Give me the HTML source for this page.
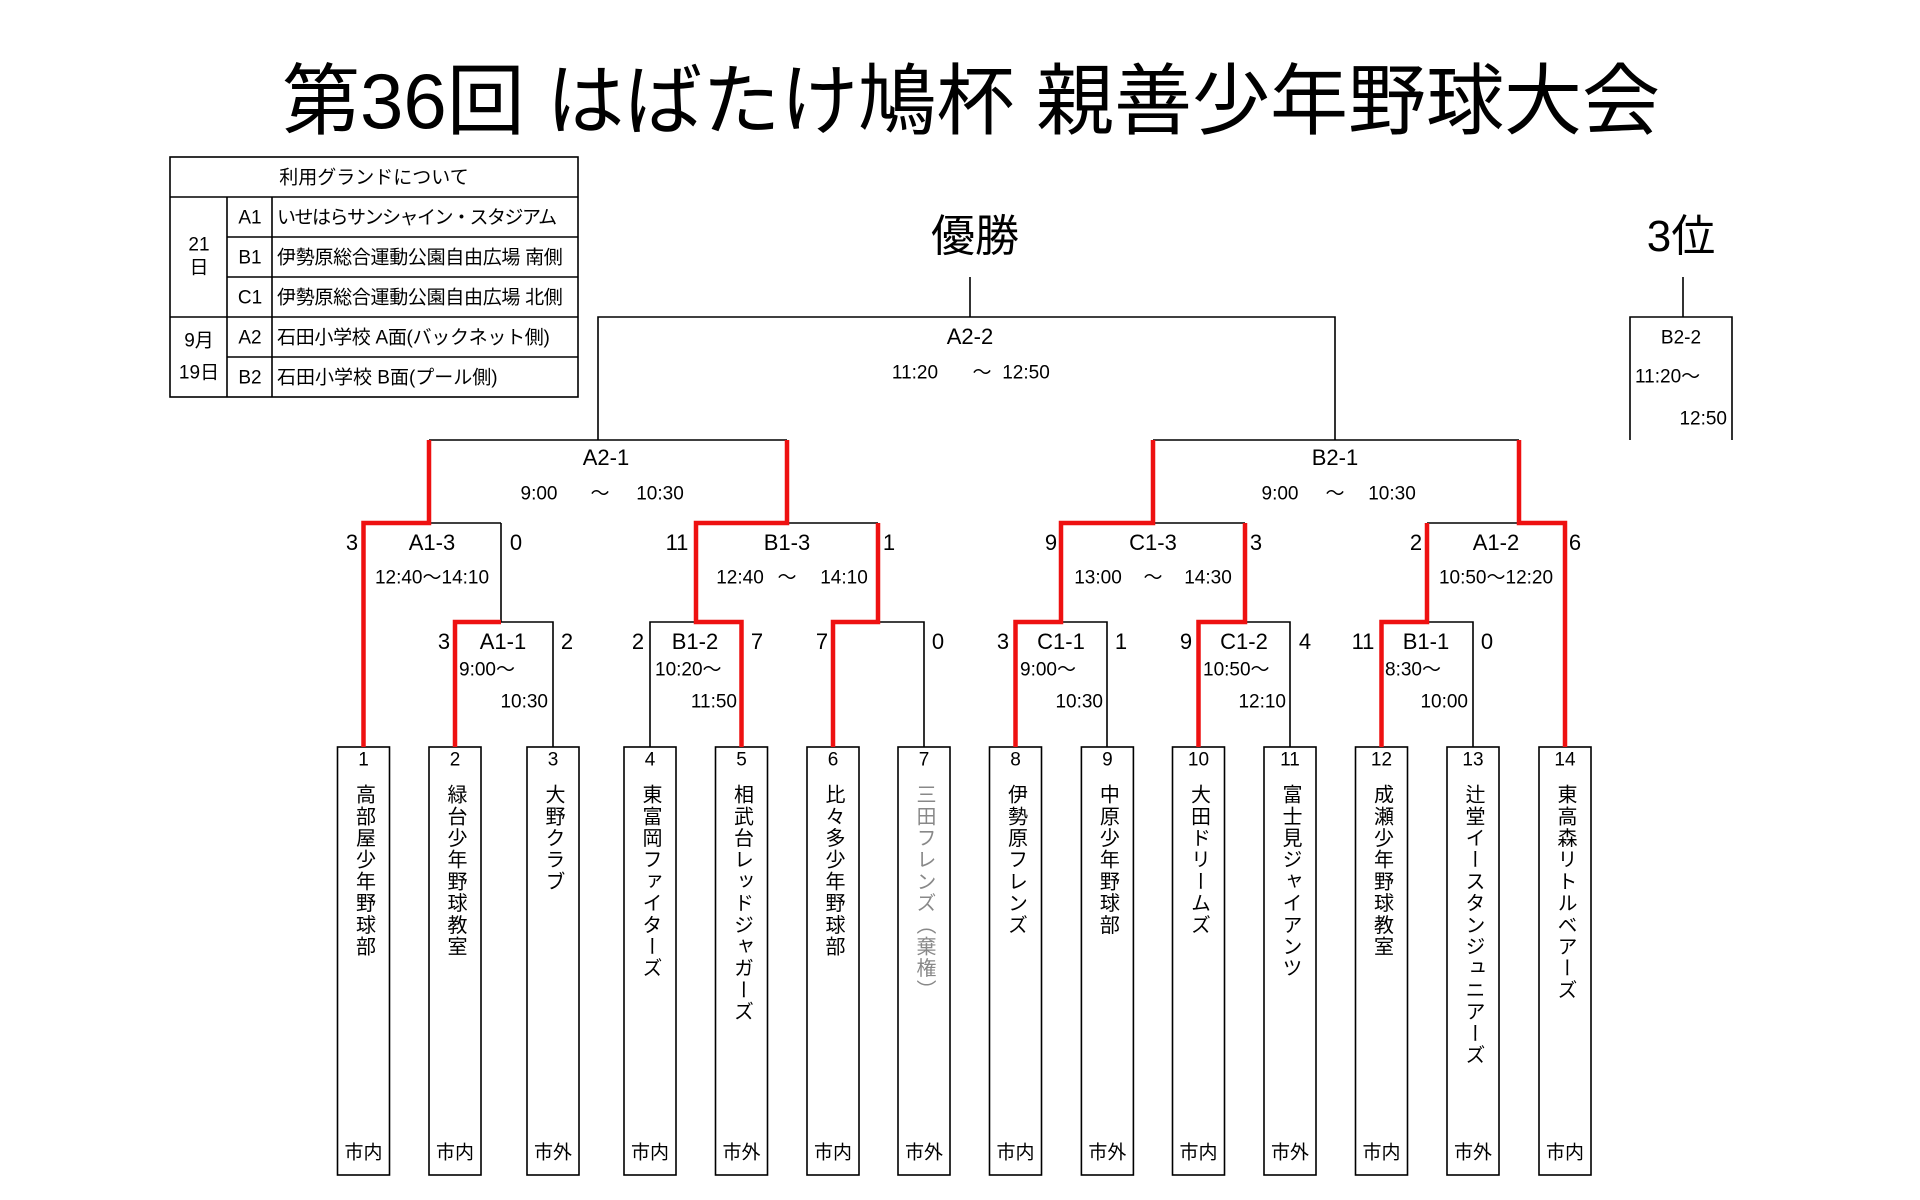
<!DOCTYPE html>
<html><head><meta charset="utf-8"><style>
html,body{margin:0;padding:0;background:#fff;}
#w{position:relative;width:1920px;height:1200px;overflow:hidden;background:#fff;font-family:"Liberation Sans","Noto Sans CJK JP",sans-serif;color:#000;}
svg{position:absolute;left:0;top:0;}
.c,.l,.r{position:absolute;white-space:nowrap;line-height:1;}
.c{transform:translate(-50%,-50%);}
.l{transform:translate(0,-50%);}
.r{transform:translate(-100%,-50%);}
.s{font-size:22px;}
.m{font-size:19px;}
.tb{font-size:19px;}
.v{position:absolute;top:784px;width:26px;writing-mode:vertical-rl;font-size:20px;letter-spacing:1.7px;line-height:26px;white-space:nowrap;}
</style></head><body><div id="w">
<svg width="1920" height="1200" viewBox="0 0 1920 1200">
<g fill="none" stroke="#000" stroke-width="1.6">
<rect x="170" y="157" width="408" height="240"/>
<line x1="170" y1="197" x2="578" y2="197"/>
<line x1="227" y1="237" x2="578" y2="237"/>
<line x1="227" y1="277" x2="578" y2="277"/>
<line x1="170" y1="317" x2="578" y2="317"/>
<line x1="227" y1="357" x2="578" y2="357"/>
<line x1="227" y1="197" x2="227" y2="397"/>
<line x1="272" y1="197" x2="272" y2="397"/>
<rect x="337.5" y="747" width="52" height="428"/>
<rect x="429" y="747" width="52" height="428"/>
<rect x="527" y="747" width="52" height="428"/>
<rect x="624" y="747" width="52" height="428"/>
<rect x="715.5" y="747" width="52" height="428"/>
<rect x="807" y="747" width="52" height="428"/>
<rect x="898" y="747" width="52" height="428"/>
<rect x="989.5" y="747" width="52" height="428"/>
<rect x="1081.4" y="747" width="52" height="428"/>
<rect x="1172.5" y="747" width="52" height="428"/>
<rect x="1264" y="747" width="52" height="428"/>
<rect x="1355.5" y="747" width="52" height="428"/>
<rect x="1447" y="747" width="52" height="428"/>
<rect x="1539" y="747" width="52" height="428"/>
<polyline points="970,277 970,317"/>
<polyline points="598,440 598,317 1335,317 1335,440"/>
<polyline points="1683,277 1683,317"/>
<polyline points="1630,440 1630,317 1732,317 1732,440"/>
<line x1="429" y1="440" x2="787" y2="440"/>
<line x1="1153" y1="440" x2="1519" y2="440"/>
<line x1="429" y1="523" x2="501" y2="523"/>
<polyline points="501,523 501,622"/>
<line x1="787" y1="523" x2="878" y2="523"/>
<line x1="1153" y1="523" x2="1245" y2="523"/>
<line x1="1427" y1="523" x2="1519" y2="523"/>
<polyline points="501,622 553,622 553,747"/>
<polyline points="650,747 650,622 696,622"/>
<polyline points="878,622 924,622 924,747"/>
<polyline points="1061,622 1107,622 1107,747"/>
<polyline points="1245,622 1290,622 1290,747"/>
<polyline points="1427,622 1473,622 1473,747"/>
</g>
<g fill="none" stroke="#ee1111" stroke-width="4.5" stroke-linejoin="miter">
<polyline points="363.5,747 363.5,523 429,523 429,440"/>
<polyline points="455,747 455,622 501,622"/>
<polyline points="787,440 787,523 696,523 696,622 741.5,622 741.5,747"/>
<polyline points="833,747 833,622 878,622 878,523"/>
<polyline points="1153,440 1153,523 1061,523 1061,622 1015.5,622 1015.5,747"/>
<polyline points="1198.5,747 1198.5,622 1245,622 1245,523"/>
<polyline points="1381.5,747 1381.5,622 1427,622 1427,523"/>
<polyline points="1519,440 1519,523 1565,523 1565,747"/>
</g>
</svg>

<div class="c" style="left:971px;top:101px;font-size:78px;">第36回 はばたけ鳩杯 親善少年野球大会</div>

<div class="c tb" style="left:374px;top:178px;">利用グランドについて</div>
<div class="c tb" style="left:199px;top:245px;">21</div>
<div class="c tb" style="left:199px;top:268px;">日</div>
<div class="c tb" style="left:199px;top:341px;">9月</div>
<div class="c tb" style="left:199px;top:373px;">19日</div>
<div class="c tb" style="left:250px;top:218px;">A1</div>
<div class="c tb" style="left:250px;top:258px;">B1</div>
<div class="c tb" style="left:250px;top:298px;">C1</div>
<div class="c tb" style="left:250px;top:338px;">A2</div>
<div class="c tb" style="left:250px;top:378px;">B2</div>
<div class="l tb" style="left:277px;top:218px;letter-spacing:-1.5px;">いせはらサンシャイン・スタジアム</div>
<div class="l tb" style="left:277px;top:258px;letter-spacing:-0.3px;">伊勢原総合運動公園自由広場 南側</div>
<div class="l tb" style="left:277px;top:298px;letter-spacing:-0.3px;">伊勢原総合運動公園自由広場 北側</div>
<div class="l tb" style="left:277px;top:338px;letter-spacing:-0.3px;">石田小学校 A面(バックネット側)</div>
<div class="l tb" style="left:277px;top:378px;">石田小学校 B面(プール側)</div>

<div class="c" style="left:975px;top:237px;font-size:44px;">優勝</div>
<div class="c" style="left:1681px;top:237px;font-size:44px;">3位</div>

<div class="c s" style="left:970px;top:337px;">A2-2</div>
<div class="c m" style="left:915px;top:373px;">11:20</div>
<div class="c m" style="left:982px;top:373px;">～</div>
<div class="c m" style="left:1026px;top:373px;">12:50</div>
<div class="c m" style="left:1681px;top:338px;">B2-2</div>
<div class="l m" style="left:1635px;top:377px;">11:20～</div>
<div class="r m" style="left:1727px;top:419px;">12:50</div>

<div class="c s" style="left:606px;top:458px;">A2-1</div>
<div class="c m" style="left:539px;top:494px;">9:00</div>
<div class="c m" style="left:600px;top:494px;">～</div>
<div class="c m" style="left:660px;top:494px;">10:30</div>
<div class="c s" style="left:1335px;top:458px;">B2-1</div>
<div class="c m" style="left:1280px;top:494px;">9:00</div>
<div class="c m" style="left:1335px;top:494px;">～</div>
<div class="c m" style="left:1392px;top:494px;">10:30</div>

<div class="c s" style="left:352px;top:543px;">3</div>
<div class="c s" style="left:432px;top:543px;">A1-3</div>
<div class="c s" style="left:516px;top:543px;">0</div>
<div class="c m" style="left:432px;top:578px;">12:40～14:10</div>
<div class="c s" style="left:677px;top:543px;">11</div>
<div class="c s" style="left:787px;top:543px;">B1-3</div>
<div class="c s" style="left:889px;top:543px;">1</div>
<div class="c m" style="left:740px;top:578px;">12:40</div>
<div class="c m" style="left:787px;top:578px;">～</div>
<div class="c m" style="left:844px;top:578px;">14:10</div>
<div class="c s" style="left:1051px;top:543px;">9</div>
<div class="c s" style="left:1153px;top:543px;">C1-3</div>
<div class="c s" style="left:1256px;top:543px;">3</div>
<div class="c m" style="left:1098px;top:578px;">13:00</div>
<div class="c m" style="left:1153px;top:578px;">～</div>
<div class="c m" style="left:1208px;top:578px;">14:30</div>
<div class="c s" style="left:1416px;top:543px;">2</div>
<div class="c s" style="left:1496px;top:543px;">A1-2</div>
<div class="c s" style="left:1575px;top:543px;">6</div>
<div class="c m" style="left:1496px;top:578px;">10:50～12:20</div>

<div class="c s" style="left:444px;top:642px;">3</div>
<div class="c s" style="left:503px;top:642px;">A1-1</div>
<div class="c s" style="left:567px;top:642px;">2</div>
<div class="l m" style="left:459px;top:670px;">9:00～</div>
<div class="r m" style="left:548px;top:702px;">10:30</div>
<div class="c s" style="left:638px;top:642px;">2</div>
<div class="c s" style="left:695px;top:642px;">B1-2</div>
<div class="c s" style="left:757px;top:642px;">7</div>
<div class="l m" style="left:655px;top:670px;">10:20～</div>
<div class="r m" style="left:737px;top:702px;">11:50</div>
<div class="c s" style="left:822px;top:642px;">7</div>
<div class="c s" style="left:938px;top:642px;">0</div>
<div class="c s" style="left:1003px;top:642px;">3</div>
<div class="c s" style="left:1061px;top:642px;">C1-1</div>
<div class="c s" style="left:1121px;top:642px;">1</div>
<div class="l m" style="left:1020px;top:670px;">9:00～</div>
<div class="r m" style="left:1103px;top:702px;">10:30</div>
<div class="c s" style="left:1186px;top:642px;">9</div>
<div class="c s" style="left:1244px;top:642px;">C1-2</div>
<div class="c s" style="left:1305px;top:642px;">4</div>
<div class="l m" style="left:1203px;top:670px;">10:50～</div>
<div class="r m" style="left:1286px;top:702px;">12:10</div>
<div class="c s" style="left:1363px;top:642px;">11</div>
<div class="c s" style="left:1426px;top:642px;">B1-1</div>
<div class="c s" style="left:1487px;top:642px;">0</div>
<div class="l m" style="left:1385px;top:670px;">8:30～</div>
<div class="r m" style="left:1468px;top:702px;">10:00</div>

<div class="c m" style="left:363.5px;top:760px;">1</div>
<div class="c m" style="left:455px;top:760px;">2</div>
<div class="c m" style="left:553px;top:760px;">3</div>
<div class="c m" style="left:650px;top:760px;">4</div>
<div class="c m" style="left:741.5px;top:760px;">5</div>
<div class="c m" style="left:833px;top:760px;">6</div>
<div class="c m" style="left:924px;top:760px;">7</div>
<div class="c m" style="left:1015.5px;top:760px;">8</div>
<div class="c m" style="left:1107.4px;top:760px;">9</div>
<div class="c m" style="left:1198.5px;top:760px;">10</div>
<div class="c m" style="left:1290px;top:760px;">11</div>
<div class="c m" style="left:1381.5px;top:760px;">12</div>
<div class="c m" style="left:1473px;top:760px;">13</div>
<div class="c m" style="left:1565px;top:760px;">14</div>

<div class="v" style="left:350.5px;">高部屋少年野球部</div>
<div class="v" style="left:442px;">緑台少年野球教室</div>
<div class="v" style="left:540px;">大野クラブ</div>
<div class="v" style="left:637px;">東富岡ファイターズ</div>
<div class="v" style="left:728.5px;">相武台レッドジャガーズ</div>
<div class="v" style="left:820px;">比々多少年野球部</div>
<div class="v" style="left:911px;color:#888;">三田フレンズ（棄権）</div>
<div class="v" style="left:1002.5px;">伊勢原フレンズ</div>
<div class="v" style="left:1094.4px;">中原少年野球部</div>
<div class="v" style="left:1185.5px;">大田ドリームズ</div>
<div class="v" style="left:1277px;">富士見ジャイアンツ</div>
<div class="v" style="left:1368.5px;">成瀬少年野球教室</div>
<div class="v" style="left:1460px;">辻堂イースタンジュニアーズ</div>
<div class="v" style="left:1552px;">東高森リトルベアーズ</div>

<div class="c m" style="left:363.5px;top:1153px;">市内</div>
<div class="c m" style="left:455px;top:1153px;">市内</div>
<div class="c m" style="left:553px;top:1153px;">市外</div>
<div class="c m" style="left:650px;top:1153px;">市内</div>
<div class="c m" style="left:741.5px;top:1153px;">市外</div>
<div class="c m" style="left:833px;top:1153px;">市内</div>
<div class="c m" style="left:924px;top:1153px;">市外</div>
<div class="c m" style="left:1015.5px;top:1153px;">市内</div>
<div class="c m" style="left:1107.4px;top:1153px;">市外</div>
<div class="c m" style="left:1198.5px;top:1153px;">市内</div>
<div class="c m" style="left:1290px;top:1153px;">市外</div>
<div class="c m" style="left:1381.5px;top:1153px;">市内</div>
<div class="c m" style="left:1473px;top:1153px;">市外</div>
<div class="c m" style="left:1565px;top:1153px;">市内</div>
</div></body></html>
